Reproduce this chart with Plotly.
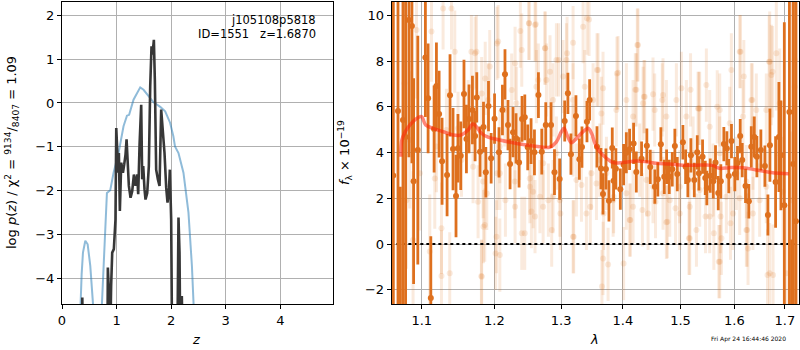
import plotly.graph_objects as go

# ---------------- left panel: log p(z) ----------------
pz_prior_z = [0.30, 0.335, 0.36, 0.384, 0.427, 0.47, 0.518, 0.567, 0.62, 0.68,
              0.73, 0.79, 0.823, 0.884, 0.945, 1.036, 1.127, 1.19, 1.23, 1.31,
              1.433, 1.494, 1.585, 1.677, 1.80, 1.89, 1.98, 2.04, 2.07, 2.134,
              2.225, 2.317, 2.38, 2.41, 2.46]
pz_prior_logp = [-6.0, -4.56, -3.9, -3.41, -3.14, -3.22, -3.71, -4.56, -6.0, -6.0,
                 -4.56, -3.0, -2.05, -1.99, -1.59, -1.14, -0.53, -0.29, -0.27, 0.075,
                 0.355, 0.30, 0.15, 0.014, -0.09, -0.19, -0.45, -0.76, -0.99, -1.14,
                 -1.59, -2.50, -3.71, -4.56, -6.0]

pz_z = [0.36, 0.372, 0.385, 0.83, 0.84, 0.86, 0.875, 0.90, 0.92, 0.95,
        0.98, 0.994, 1.012, 1.03, 1.042, 1.06, 1.085, 1.116, 1.14, 1.164,
        1.183, 1.207, 1.225, 1.256, 1.286, 1.317, 1.347, 1.378, 1.396, 1.421,
        1.451, 1.469, 1.488, 1.512, 1.53, 1.561, 1.591, 1.616, 1.64, 1.658,
        1.683, 1.701, 1.725, 1.756, 1.787, 1.817, 1.848, 1.878, 1.909, 1.933,
        1.957, 1.976, 2.0, 2.02, 2.11, 2.134, 2.153, 2.17, 2.195, 2.22]
pz_logp = [-6.0, -4.43, -6.0, -6.0, -3.75, -4.32, -6.0, -4.17, -3.41, -3.33,
           -2.65, -0.57, -1.14, -1.59, -1.14, -2.46, -1.36, -1.59, -1.40, -1.17,
           -0.83, -1.29, -1.89, -2.16, -2.01, -1.63, -1.89, -1.63, -2.08, -0.95,
           -0.04, -1.74, -1.44, -1.97, -2.2, -2.05, -1.44, 0.38, 1.29, 1.10,
           1.44, 0.53, -1.52, -1.74, -1.89, -0.15, -0.61, -1.14, -1.93, -2.27,
           -2.05, -1.52, -2.65, -6.0, -6.0, -2.61, -3.41, -6.0, -4.4, -6.0]

z_ticks = [0, 1, 2, 3, 4]
logp_ticks = [-4, -3, -2, -1, 0, 1, 2]

# ---------------- right panel: spectrum ----------------
spec_wave = [1.0691, 1.0755, 1.0789, 1.0832, 1.0871, 1.0893, 1.0948, 1.1048, 1.1084, 1.1120,
             1.1164, 1.1195, 1.1231, 1.1271, 1.1339, 1.1379, 1.1420, 1.1461, 1.1488, 1.1526,
             1.1571, 1.1605, 1.1641, 1.1689, 1.1726, 1.1750, 1.1796, 1.1845, 1.1878, 1.1916,
             1.1954, 1.2003, 1.2067, 1.2117, 1.2154, 1.2198, 1.2228, 1.2272, 1.2316, 1.2361,
             1.2405, 1.2446, 1.2490, 1.2540, 1.2591, 1.2651, 1.2702, 1.2763, 1.2844, 1.2897,
             1.2977, 1.3056, 1.3106, 1.3154, 1.3233, 1.3287, 1.3329, 1.3409, 1.3452, 1.3571,
             1.3636, 1.3669, 1.3717, 1.3767, 1.3822, 1.3844, 1.3882, 1.3956, 1.4011, 1.4057,
             1.4112, 1.4180, 1.4226, 1.4316, 1.4407, 1.4466, 1.4546, 1.4598, 1.4651, 1.4711,
             1.4752, 1.4799, 1.4853, 1.4899, 1.4942, 1.5043, 1.5092, 1.5133, 1.5188, 1.5250,
             1.5304, 1.5334, 1.5402, 1.5452, 1.5481, 1.5544, 1.5601, 1.5643, 1.5694, 1.5743,
             1.5800, 1.5857, 1.5894, 1.5945, 1.6009, 1.6061, 1.6113, 1.6152, 1.6216, 1.6281,
             1.6328, 1.6387, 1.6438, 1.6517, 1.6597, 1.6657, 1.6697, 1.6811, 1.6878, 1.6919,
             1.6988, 1.7092]
spec_flux = [5.82, 5.42, 4.68, 9.79, 9.53, 2.75, 4.11, 8.15, 6.37, -2.36,
             5.03, 6.91, 5.68, 3.62, 3.02, 6.50, 4.15, 2.10, 4.19, 3.86,
             6.56, 4.59, 5.47, 5.86, 4.72, 6.41, 4.04, 5.12, 3.14, 6.03,
             3.75, 5.48, 4.01, 5.86, 7.42, 5.20, 3.50, 4.89, 4.62, 3.57,
             5.47, 5.54, 4.23, 4.50, 4.01, 6.51, 4.04, 5.20, 5.20, 3.14,
             2.84, 5.38, 6.59, 3.93, 5.60, 3.71, 4.24, 5.35, 6.30, 4.25,
             3.30, 2.19, 3.28, 1.89, 4.20, 2.77, 3.29, 2.40, 3.47, 3.99,
             4.14, 4.40, 3.15, 3.73, 4.30, 3.37, 2.51, 2.83, 4.36, 2.94,
             3.38, 2.94, 3.27, 4.29, 3.06, 4.45, 3.38, 2.80, 3.88, 2.80,
             4.01, 3.09, 3.82, 2.89, 2.45, 2.99, 2.74, 3.57, 2.23, 2.74,
             4.37, 4.18, 2.97, 4.50, 3.06, 3.54, 4.72, 3.67, 2.54, 1.87,
             4.25, 4.68, 3.82, 4.11, 3.41, 1.27, 4.32, 2.71, 4.68, 3.88,
             1.70, 5.77]
spec_err = [12.0, 9.0, 8.0, 6.0, 6.0, 4.5, 5.0, 2.6, 2.4, 2.7,
            1.9, 1.9, 1.9, 1.9, 1.8, 1.8, 1.8, 1.8, 1.5, 1.5,
            1.5, 1.5, 1.5, 1.5, 1.1, 1.1, 1.1, 1.1, 1.1, 1.1,
            1.1, 1.1, 1.1, 1.1, 1.1, 1.1, 1.1, 1.1, 1.1, 1.1,
            1.0, 1.0, 1.0, 1.0, 1.0, 1.0, 1.0, 1.0, 1.0, 1.0,
            0.9, 0.9, 0.9, 0.9, 0.9, 0.9, 0.9, 0.9, 0.9, 0.9,
            0.9, 0.9, 0.9, 0.9, 0.9, 0.9, 0.9, 0.9, 0.9, 0.9,
            0.9, 0.9, 0.9, 0.75, 0.75, 0.75, 0.75, 0.75, 0.75, 0.75,
            0.75, 0.75, 0.75, 0.75, 0.75, 0.75, 0.75, 0.75, 0.75, 0.75,
            0.75, 0.75, 0.75, 0.75, 0.75, 0.75, 0.75, 0.75, 0.75, 0.75,
            0.75, 0.75, 0.75, 0.75, 0.75, 0.75, 0.75, 0.75, 0.75, 0.75,
            0.9, 0.9, 0.9, 0.9, 0.9, 0.9, 1.6, 2.0, 2.4, 2.4,
            8.0, 12.0]

edge_wave = [1.0630, 1.0720, 1.7140, 1.7170, 1.7225]
edge_flux = [3.0, -5.0, -4.0, 3.5, 1.0]
edge_err = [14.0, 7.5, 4.2, 14.0, 14.0]

faint_wave = [1.1285, 1.1399, 1.1129, 1.1444, 1.1674, 1.1934, 1.2055, 1.2380, 1.2510, 1.2611,
              1.2753, 1.2927, 1.3083, 1.3188, 1.3347, 1.3443, 1.3589, 1.3670, 1.3918, 1.4255,
              1.4227, 1.4370, 1.4514, 1.4689, 1.5016, 1.5319, 1.5472, 1.5943, 1.6103, 1.6692,
              1.6826, 1.6726, 1.6330,
              1.1173, 1.1263, 1.1263, 1.1106, 1.1815, 1.1768, 1.1863, 1.2079, 1.2031, 1.2445,
              1.2545, 1.2723, 1.2875, 1.2979, 1.3188, 1.3400, 1.3670, 1.3753, 1.4114, 1.4428,
              1.4748, 1.4986, 1.5167, 1.5289, 1.5534, 1.5722, 1.5754, 1.6265, 1.6232, 1.6692,
              1.6760, 1.6361, 1.5975, 1.6103,
              1.2079, 1.2298, 1.2520, 1.2570, 1.2723, 1.2927, 1.3241, 1.3321, 1.3482, 1.3562,
              1.3836, 1.4058, 1.4171, 1.4400, 1.4514, 1.4689, 1.4808, 1.4986, 1.5167, 1.5349,
              1.5597, 1.5847, 1.6039, 1.6232, 1.6492, 1.6625, 1.6960, 1.1536, 1.1698, 1.1839,
              1.1195, 1.1330,
              1.1489, 1.1628, 1.1911, 1.2151, 1.2321, 1.2620, 1.2773, 1.2875, 1.3030, 1.3188,
              1.3373, 1.3508, 1.3643, 1.3890, 1.4058, 1.4171, 1.4342, 1.4543, 1.4748, 1.4926,
              1.5106, 1.5349, 1.5534, 1.5722, 1.5911, 1.6168, 1.6427, 1.6625, 1.6894, 1.7200,
              1.0843, 1.0975, 1.3616, 1.3726, 1.4284, 1.5228, 1.6361, 1.5722, 1.2370, 1.2079,
              1.3188, 1.1375, 1.0886, 1.0800, 1.7028, 1.7131, 1.7200, 1.0931, 1.0774]
faint_flux = [10.3, 10.3, 9.29, 8.41, 8.41, 7.76, 8.85, 9.31, 9.65, 9.61,
              8.56, 8.05, 8.05, 8.80, 9.50, 9.82, 7.61, 6.81, 7.49, 8.70,
              6.74, 6.44, 6.55, 6.52, 6.81, 5.93, 6.95, 7.61, 8.41, 7.97,
              8.34, 7.39, 6.30,
              2.87, 0.69, -1.40, -0.33, -1.40, 1.85, 0.83, -0.48, 0.32, 0.47,
              1.42, 1.63, 2.07, 1.92, 0.32, 1.34, -0.63, -0.89, 1.05, 1.34,
              0.95, 1.34, 0.25, 0.61, 1.20, -0.77, 0.25, -0.19, 0.61, -1.28,
              -1.35, 1.34, 1.34, 2.00,
              3.09, 2.73, 2.87, 2.29, 3.53, 3.97, 2.80, 2.58, 3.09, 2.65,
              1.92, 2.22, 1.63, 2.80, 2.51, 2.22, 1.92, 2.51, 1.63, 2.36,
              2.80, 2.07, 3.09, 2.73, 1.92, 2.51, 2.29, 3.67, 3.38, 2.73,
              4.26, 4.99,
              5.06, 5.57, 6.30, 5.86, 6.15, 6.88, 7.17, 6.30, 7.32, 6.30,
              6.88, 6.30, 5.71, 5.86, 6.30, 5.57, 6.15, 5.86, 5.57, 6.30,
              5.57, 5.93, 5.13, 5.86, 5.28, 5.57, 5.86, 5.86, 6.15, 6.88,
              4.55, 3.09, 3.67, 3.09, 3.67, 3.97, 3.97, 3.97, 4.40, 4.26,
              4.55, -1.28, 0.18, 1.92, -1.28, 1.92, 8.05, 9.36, 7.03]
faint_err = [1.8, 1.8, 2.2, 1.8, 1.6, 1.6, 1.6, 1.6, 1.6, 1.6,
             1.6, 1.6, 1.6, 1.6, 1.6, 1.6, 1.6, 1.6, 1.6, 1.6,
             1.6, 1.6, 1.6, 1.6, 1.6, 1.6, 1.6, 1.6, 1.6, 2.2,
             2.5, 2.2, 1.6,
             2.2, 2.0, 2.0, 2.5, 1.6, 1.6, 1.6, 1.6, 1.6, 1.6,
             1.6, 1.6, 1.6, 1.6, 1.6, 1.6, 1.6, 1.6, 1.6, 1.6,
             1.6, 1.6, 1.6, 1.6, 1.6, 1.6, 1.6, 1.6, 1.6, 2.2,
             2.2, 1.6, 1.6, 1.6,
             1.6, 1.6, 1.6, 1.6, 1.6, 1.6, 1.6, 1.6, 1.6, 1.6,
             1.6, 1.6, 1.6, 1.6, 1.6, 1.6, 1.6, 1.6, 1.6, 1.6,
             1.6, 1.6, 1.6, 1.6, 1.6, 1.6, 2.4, 1.6, 1.6, 1.6,
             2.0, 1.8,
             1.6, 1.6, 1.6, 1.6, 1.6, 1.6, 1.6, 1.6, 1.6, 1.6,
             1.6, 1.6, 1.6, 1.6, 1.6, 1.6, 1.6, 1.6, 1.6, 1.6,
             1.6, 1.6, 1.6, 1.6, 1.6, 1.6, 1.6, 1.6, 2.4, 3.0,
             3.0, 2.5, 1.6, 1.6, 1.6, 1.6, 1.6, 1.6, 1.6, 1.6,
             1.6, 1.8, 3.0, 3.0, 3.0, 3.0, 3.0, 3.0, 3.0]

faint2_wave = [1.1726, 1.1745, 1.2038, 1.2401, 1.2508, 1.2600, 1.2751, 1.2828, 1.1869, 1.2302,
               1.1819, 1.2252, 1.2649, 1.1892, 1.2038, 1.2160, 1.2302, 1.2522, 1.2674, 1.2803,
               1.1845, 1.2018, 1.1819, 1.2401, 1.2854, 1.2600,
               1.2962, 1.3093, 1.3409, 1.3571, 1.3899, 1.4209, 1.2988, 1.3197, 1.3463, 1.3679,
               1.4011, 1.3652, 1.4124, 1.3844,
               1.4243, 1.4356, 1.4676, 1.5182, 1.5333, 1.5675, 1.4330, 1.4557, 1.4765, 1.4911,
               1.5152, 1.5457, 1.5612, 1.5705,
               1.6118, 1.6183, 1.6681, 1.6750, 1.6348, 1.5738, 1.5926, 1.6248, 1.6649]
faint2_flux = [8.34, 8.41, 8.77, 8.48, 9.65, 9.58, 8.56, 7.53, 7.24, 7.90,
               6.58, 6.73, 7.17, 2.21, 3.09, 1.92, 1.63, 2.51, 2.07, 1.92,
               0.76, -0.41, -1.43, 0.47, 0.61, 1.20,
               8.05, 8.34, 9.87, 7.61, 7.46, 6.74, 1.34, 0.32, 1.63, 1.34,
               -0.85, -1.86, 1.05, 2.07,
               8.70, 6.44, 6.30, 6.74, 5.93, 6.00, 1.49, 1.85, 0.98, 1.56,
               0.25, 1.20, 0.47, -0.77,
               8.41, 7.32, 7.97, 7.53, 6.30, 1.20, 0.91, 0.61, -1.35]
faint2_err = [1.6, 1.6, 1.6, 1.6, 1.6, 1.6, 1.6, 1.6, 1.6, 1.6,
              1.6, 1.6, 1.6, 1.6, 1.6, 1.6, 1.6, 1.6, 1.6, 1.6,
              1.6, 1.6, 1.6, 1.6, 1.6, 1.6,
              1.6, 1.6, 1.6, 1.6, 1.6, 1.6, 1.6, 1.6, 1.6, 1.6,
              1.6, 1.6, 1.6, 1.6,
              1.6, 1.6, 1.6, 1.6, 1.6, 1.6, 1.6, 1.6, 1.6, 1.6,
              1.6, 1.6, 1.6, 1.6,
              1.6, 1.6, 2.0, 2.0, 1.6, 1.6, 1.6, 1.6, 2.0]

model_wave = [1.0728, 1.0741, 1.0784, 1.0843, 1.0937, 1.0996, 1.1052, 1.1149, 1.1288, 1.1420,
              1.1536, 1.1627, 1.1696, 1.1745, 1.1815, 1.1910, 1.2077, 1.2272, 1.2471, 1.2669,
              1.2823, 1.2927, 1.3004, 1.3045, 1.3093, 1.3161, 1.3241, 1.3347, 1.3428, 1.3483,
              1.3538, 1.3614, 1.3726, 1.3834, 1.4000, 1.4226, 1.4396, 1.4569, 1.4805, 1.5043,
              1.5286, 1.5594, 1.5718, 1.5907, 1.6164, 1.6426, 1.6688, 1.6889, 1.7078]
model_flux = [3.82, 4.55, 4.91, 5.20, 5.50, 5.57, 5.20, 5.06, 4.91, 4.77,
              4.77, 4.98, 5.25, 5.13, 4.84, 4.67, 4.55, 4.43, 4.33, 4.25,
              4.23, 4.47, 4.91, 5.06, 4.77, 4.43, 4.62, 4.91, 5.06, 4.84,
              4.40, 4.04, 3.75, 3.56, 3.56, 3.63, 3.60, 3.53, 3.50, 3.45,
              3.45, 3.44, 3.31, 3.34, 3.34, 3.24, 3.14, 3.09, 3.07]

zero_wave = [1.067, 1.7195]
zero_flux = [0, 0]

wave_ticks = [1.1, 1.2, 1.3, 1.4, 1.5, 1.6, 1.7]
flux_ticks = [-2, 0, 2, 4, 6, 8, 10]

assert len(spec_wave) == len(spec_flux) == len(spec_err)
assert len(faint_wave) == len(faint_flux) == len(faint_err)
assert len(faint2_wave) == len(faint2_flux) == len(faint2_err)
assert len(model_wave) == len(model_flux)

ORANGE = "rgb(222,112,30)"
FAINT = "rgba(222,112,30,0.15)"

fig = go.Figure()

# left panel
fig.add_trace(go.Scatter(x=pz_prior_z, y=pz_prior_logp, mode="lines",
                         line=dict(color="rgba(31,119,180,0.5)", width=2),
                         xaxis="x", yaxis="y", hoverinfo="skip"))
fig.add_trace(go.Scatter(x=pz_z, y=pz_logp, mode="lines",
                         line=dict(color="rgb(55,55,55)", width=2.6),
                         xaxis="x", yaxis="y", hoverinfo="skip"))

# right panel
for fw, ff, fe in [(faint_wave, faint_flux, faint_err), (faint2_wave, faint2_flux, faint2_err)]:
    fig.add_trace(go.Scatter(x=fw, y=ff, mode="markers",
                             marker=dict(color=FAINT, size=6),
                             error_y=dict(type="data", array=fe, color=FAINT,
                                          thickness=3, width=0),
                             xaxis="x2", yaxis="y2", hoverinfo="skip"))
fig.add_trace(go.Scatter(x=zero_wave, y=zero_flux, mode="lines",
                         line=dict(color="black", width=2, dash="dot"),
                         xaxis="x2", yaxis="y2", hoverinfo="skip"))
fig.add_trace(go.Scatter(x=edge_wave, y=edge_flux, mode="markers",
                         marker=dict(color=ORANGE, size=6),
                         error_y=dict(type="data", array=edge_err, color=ORANGE,
                                      thickness=3, width=0),
                         xaxis="x2", yaxis="y2", hoverinfo="skip"))
fig.add_trace(go.Scatter(x=spec_wave, y=spec_flux, mode="markers",
                         marker=dict(color=ORANGE, size=6),
                         error_y=dict(type="data", array=spec_err, color=ORANGE,
                                      thickness=2.8, width=0),
                         xaxis="x2", yaxis="y2", hoverinfo="skip"))
fig.add_trace(go.Scatter(x=model_wave, y=model_flux, mode="lines",
                         line=dict(color="rgba(255,35,10,0.55)", width=3.5, shape="spline"),
                         xaxis="x2", yaxis="y2", hoverinfo="skip"))

axis_common = dict(showgrid=True, gridcolor="#b0b0b0", gridwidth=1,
                   showline=True, linecolor="black", linewidth=1, mirror=True,
                   ticks="outside", ticklen=4, tickwidth=1, tickcolor="black",
                   zeroline=False, tickfont=dict(size=13, color="black"))

fig.update_layout(
    width=800, height=350,
    margin=dict(l=62, r=1, t=2, b=46),
    plot_bgcolor="white", paper_bgcolor="white",
    showlegend=False,
    font=dict(family="DejaVu Sans", size=13, color="black"),
    xaxis=dict(domain=[0, 0.3681], range=[0, 4.97], tickvals=z_ticks,
               anchor="y", **axis_common),
    yaxis=dict(domain=[0, 1], range=[-4.58, 2.30], tickvals=logp_ticks,
               anchor="x", **axis_common),
    xaxis2=dict(domain=[0.4474, 1], type="log", range=[0.02576, 0.23778],
                tickvals=wave_ticks, ticktext=[str(t) for t in wave_ticks],
                anchor="y2", **axis_common),
    yaxis2=dict(domain=[0, 1], range=[-2.62, 10.58], tickvals=flux_ticks,
                anchor="x2", **axis_common),
)

annotations = [
    dict(text="j105108p5818", x=0.3474, y=0.940, xref="paper", yref="paper",
         xanchor="right", yanchor="middle", showarrow=False, font=dict(size=11.5)),
    dict(text="ID=1551\u00a0\u00a0\u00a0z=1.6870", x=0.3474, y=0.894, xref="paper", yref="paper",
         xanchor="right", yanchor="middle", showarrow=False, font=dict(size=11.5)),
    dict(text="log <i>p</i>(<i>z</i>) / χ<sup>2</sup> = <sup>9134</sup>/<sub>8407</sub> = 1.09",
         x=-0.0678, y=0.5, xref="paper", yref="paper", textangle=-90,
         xanchor="center", yanchor="middle", showarrow=False, font=dict(size=13)),
    dict(text="<i>f</i><sub>λ</sub> × 10<sup>−19</sup>",
         x=0.384, y=0.5, xref="paper", yref="paper", textangle=-90,
         xanchor="center", yanchor="middle", showarrow=False, font=dict(size=13)),
    dict(text="<i>z</i>", x=0.183, y=-0.119, xref="paper", yref="paper",
         xanchor="center", yanchor="middle", showarrow=False, font=dict(size=13)),
    dict(text="<i>λ</i>", x=0.7232, y=-0.119, xref="paper", yref="paper",
         xanchor="center", yanchor="middle", showarrow=False, font=dict(size=13)),
    dict(text="Fri Apr 24 16:44:46 2020", x=0.985, y=-0.116, xref="paper", yref="paper",
         xanchor="right", yanchor="middle", showarrow=False, font=dict(size=6)),
]
fig.update_layout(annotations=annotations)

fig.write_html("out.html", config={"displayModeBar": False},
               post_script="document.body.style.margin='0px';document.body.style.padding='0px';")
